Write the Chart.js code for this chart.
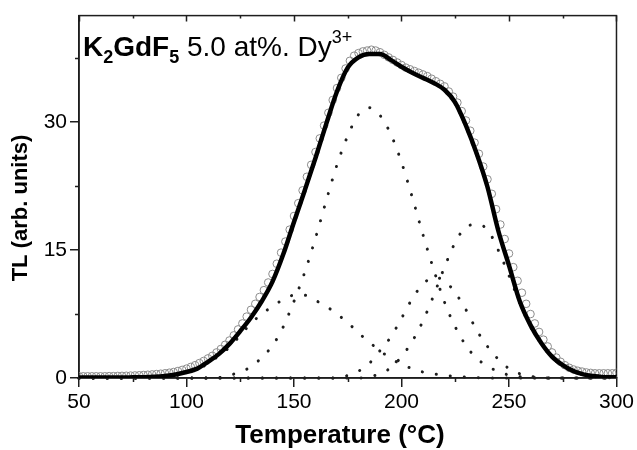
<!DOCTYPE html>
<html>
<head>
<meta charset="utf-8">
<title>TL glow curve</title>
<script src="https://cdn.jsdelivr.net/npm/chart.js@4"></script>
<style>
  html, body { margin: 0; padding: 0; background: #fff; }
</style>
</head>
<body>
<canvas id="tl" width="637" height="450"></canvas>
<script>
// ── Data ──
// fitted curve and the four components, every 5 °C
const fitTemps = [50, 55, 60, 65, 70, 75, 80, 85, 90, 95,
                  100, 105, 110, 115, 120, 125, 130, 135, 140, 145,
                  150, 155, 160, 165, 170, 175, 180, 185, 190, 195,
                  200, 205, 210, 215, 220, 225, 230, 235, 240, 245,
                  250, 255, 260, 265, 270, 275, 280, 285, 290, 295,
                  300];

const fitTL = [0.05, 0.05, 0.05, 0.05, 0.06, 0.08, 0.1, 0.15, 0.25, 0.42,
               0.7, 1.1, 1.9, 2.8, 4.0, 5.5, 7.1, 9.0, 11.3, 14.5,
               18.3, 22.0, 25.8, 29.8, 33.6, 36.4, 37.6, 38.0, 38.0, 37.3,
               36.5, 35.8, 35.2, 34.6, 33.8, 32.3, 29.6, 26.3, 22.4, 17.3,
               13.2, 9.0, 6.2, 4.1, 2.5, 1.5, 0.8, 0.4, 0.2, 0.1,
               0.1];

const peak1 = [0, 0, 0, 0, 0, 0, 0.05, 0.1, 0.2, 0.35,
               0.6, 1.0, 1.7, 2.6, 3.6, 5.0, 6.4, 7.5, 8.4, 9.2,
               9.7, 9.7, 9.1, 8.4, 7.5, 6.5, 5.3, 4.2, 3.2, 2.3,
               1.6, 1.1, 0.7, 0.5, 0.3, 0.2, 0.1, 0.05, 0, 0,
               0, 0, 0, 0, 0, 0, 0, 0, 0, 0,
               0];

const peak2 = [0, 0, 0, 0, 0, 0, 0, 0, 0, 0,
               0, 0, 0, 0.05, 0.3, 0.75, 1.3, 2.4, 3.8, 6.0,
               9.0, 12.4, 16.4, 20.8, 25.0, 28.4, 30.9, 31.7, 30.8, 28.6,
               25.3, 21.2, 16.8, 12.7, 8.9, 6.0, 3.8, 2.3, 1.4, 0.75,
               0.35, 0.15, 0.05, 0, 0, 0, 0, 0, 0, 0,
               0];

const peak3 = [0, 0, 0, 0, 0, 0, 0, 0, 0, 0,
               0, 0, 0, 0, 0, 0, 0, 0, 0, 0,
               0, 0, 0, 0, 0, 0.3, 0.8, 1.7, 3.2, 4.8,
               7.0, 9.3, 11.0, 11.8, 11.4, 10.0, 8.0, 5.6, 3.7, 2.2,
               1.1, 0.5, 0.2, 0.05, 0, 0, 0, 0, 0, 0,
               0];

const peak4 = [0, 0, 0, 0, 0, 0, 0, 0, 0, 0,
               0, 0, 0, 0, 0, 0, 0, 0, 0, 0,
               0, 0, 0, 0, 0, 0, 0, 0.15, 0.5, 1.2,
               2.5, 4.3, 6.7, 9.7, 13.0, 15.9, 17.7, 18.0, 17.4, 15.0,
               12.0, 8.8, 6.0, 4.0, 2.4, 1.4, 0.7, 0.35, 0.15, 0.05,
               0];

// measured glow curve, every 2 °C
const expTemps = [50, 52, 54, 56, 58, 60, 62, 64, 66, 68,
                  70, 72, 74, 76, 78, 80, 82, 84, 86, 88,
                  90, 92, 94, 96, 98, 100, 102, 104, 106, 108,
                  110, 112, 114, 116, 118, 120, 122, 124, 126, 128,
                  130, 132, 134, 136, 138, 140, 142, 144, 146, 148,
                  150, 152, 154, 156, 158, 160, 162, 164, 166, 168,
                  170, 172, 174, 176, 178, 180, 182, 184, 186, 188,
                  190, 192, 194, 196, 198, 200, 202, 204, 206, 208,
                  210, 212, 214, 216, 218, 220, 222, 224, 226, 228,
                  230, 232, 234, 236, 238, 240, 242, 244, 246, 248,
                  250, 252, 254, 256, 258, 260, 262, 264, 266, 268,
                  270, 272, 274, 276, 278, 280, 282, 284, 286, 288,
                  290, 292, 294, 296, 298, 300];

const expTL = [0.2, 0.2, 0.2, 0.2, 0.2, 0.2, 0.2, 0.22, 0.22, 0.24,
               0.25, 0.26, 0.28, 0.3, 0.32, 0.35, 0.38, 0.42, 0.46, 0.5,
               0.55, 0.62, 0.7, 0.82, 0.95, 1.1, 1.3, 1.5, 1.75, 2.0,
               2.3, 2.6, 3.0, 3.4, 3.9, 4.4, 5.0, 5.7, 6.4, 7.2,
               8.0, 8.7, 9.5, 10.3, 11.2, 12.2, 13.4, 14.7, 16.0, 17.4,
               19.0, 20.5, 22.0, 23.6, 25.0, 26.5, 28.1, 29.6, 31.1, 32.6,
               34.0, 35.2, 36.3, 37.2, 37.8, 38.1, 38.3, 38.4, 38.5, 38.4,
               38.2, 37.9, 37.6, 37.3, 37.0, 36.7, 36.4, 36.2, 36.0, 35.8,
               35.6, 35.4, 35.1, 34.8, 34.5, 34.2, 33.6, 33.0, 32.3, 31.3,
               30.2, 29.0, 27.6, 26.3, 24.8, 23.3, 21.6, 19.8, 18.0, 16.3,
               14.6, 13.0, 11.4, 10.0, 8.7, 7.5, 6.4, 5.4, 4.5, 3.7,
               3.0, 2.4, 1.9, 1.5, 1.2, 1.0, 0.85, 0.75, 0.65, 0.6,
               0.55, 0.55, 0.55, 0.55, 0.55, 0.6];

// ── Axes ──
const xTicks = [50, 100, 150, 200, 250, 300];
const xMinor = [75, 125, 175, 225, 275];
const yTicks = [0, 15, 30];
const yMinor = [7.5, 22.5, 37.5];

const FONT = "'Liberation Sans', Arial, sans-serif";
const INK  = '#1e1e1e';

const pts = (xs, ys) => xs.map((x, i) => ({ x, y: ys[i] }));

const dotted = (data) => ({
  data,
  borderColor: INK,
  borderWidth: 3,
  borderDash: [0.1, 14],
  borderCapStyle: 'round',
  pointRadius: 0,
  cubicInterpolationMode: 'monotone',
  clip: false,
  order: 1,
});

// ── Frame, minor ticks and texts ──
const marcoPlugin = {
  id: 'marco',
  beforeDatasetsDraw(chart) {
    const { ctx, chartArea: a, scales: { x, y } } = chart;
    ctx.save();
    ctx.strokeStyle = INK;
    ctx.lineWidth = 1.5;
    ctx.strokeRect(a.left, a.top, a.right - a.left, a.bottom - a.top);

    ctx.beginPath();
    xMinor.forEach(v => {
      const px = Math.round(x.getPixelForValue(v)) + 0.5;
      ctx.moveTo(px, a.bottom); ctx.lineTo(px, a.bottom + 4);
      ctx.moveTo(px, a.top);    ctx.lineTo(px, a.top + 3);
    });
    xTicks.forEach(v => {
      const px = Math.round(x.getPixelForValue(v)) + 0.5;
      ctx.moveTo(px, a.top); ctx.lineTo(px, a.top + 6);
    });
    yMinor.forEach(v => {
      const py = Math.round(y.getPixelForValue(v)) + 0.5;
      ctx.moveTo(a.left - 4, py); ctx.lineTo(a.left, py);
    });
    ctx.stroke();
    ctx.restore();
  },
  afterDraw(chart) {
    const { ctx } = chart;
    ctx.save();
    // axis titles
    ctx.fillStyle = '#000';
    ctx.textAlign = 'center';
    ctx.textBaseline = 'middle';
    ctx.font = `bold 26px ${FONT}`;
    ctx.fillText('Temperature (°C)', 340, 436);

    ctx.save();
    ctx.translate(21, 208);
    ctx.rotate(-Math.PI / 2);
    ctx.font = `bold 22px ${FONT}`;
    ctx.fillText('TL (arb. units)', 0, 0);
    ctx.restore();

    // sample label
    ctx.textAlign = 'left';
    ctx.textBaseline = 'alphabetic';
    const trozos = [
      { t: 'K',            f: `bold 28px ${FONT}`, dy: 0 },
      { t: '2',            f: `bold 18px ${FONT}`, dy: 7 },
      { t: 'GdF',          f: `bold 28px ${FONT}`, dy: 0 },
      { t: '5',            f: `bold 18px ${FONT}`, dy: 7 },
      { t: ' 5.0 at%. Dy', f: `28px ${FONT}`,      dy: 0 },
      { t: '3+',           f: `18px ${FONT}`,      dy: -13 },
    ];
    let cx = 83;
    trozos.forEach(p => {
      ctx.font = p.f;
      ctx.fillText(p.t, cx, 55.5 + p.dy);
      cx += ctx.measureText(p.t).width;
    });
    ctx.restore();
  }
};

// ── Chart ──
new Chart(document.getElementById('tl'), {
  type: 'line',
  data: {
    datasets: [
      {
        data: pts(fitTemps, fitTL),
        borderColor: '#000',
        borderWidth: 4.5,
        pointRadius: 0,
        cubicInterpolationMode: 'monotone',
        order: 0,
      },
      dotted(pts(fitTemps, peak1)),
      dotted(pts(fitTemps, peak2)),
      dotted(pts(fitTemps, peak3)),
      dotted(pts(fitTemps, peak4)),
      {
        data: pts(expTemps, expTL),
        showLine: false,
        pointStyle: 'circle',
        pointRadius: 3.8,
        pointBorderWidth: 1,
        pointBorderColor: '#8c8c8c',
        pointBackgroundColor: 'rgba(0,0,0,0)',
        order: 2,
      },
    ],
  },
  options: {
    responsive: false,
    animation: false,
    devicePixelRatio: 1,
    layout: { padding: { top: 14, right: 20, left: 0, bottom: 0 } },
    plugins: { legend: { display: false }, tooltip: { enabled: false } },
    scales: {
      x: {
        type: 'linear',
        min: 50, max: 300,
        afterBuildTicks: s => { s.ticks = xTicks.map(v => ({ value: v })); },
        afterFit: s => { s.height = 72; },
        ticks: { font: { family: FONT, size: 21 }, color: '#000', padding: 3, maxRotation: 0, autoSkip: false },
        grid: { drawOnChartArea: false, tickLength: 9, color: INK, lineWidth: 1.5 },
        border: { color: INK, width: 1.5 },
      },
      y: {
        type: 'linear',
        min: 0, max: 42.5,
        afterBuildTicks: s => { s.ticks = yTicks.map(v => ({ value: v })); },
        afterFit: s => { s.width = 79; },
        ticks: { font: { family: FONT, size: 21 }, color: '#000', padding: 3 },
        grid: { drawOnChartArea: false, tickLength: 9, color: INK, lineWidth: 1.5 },
        border: { color: INK, width: 1.5 },
      },
    },
  },
  plugins: [marcoPlugin],
});
</script>
</body>
</html>
